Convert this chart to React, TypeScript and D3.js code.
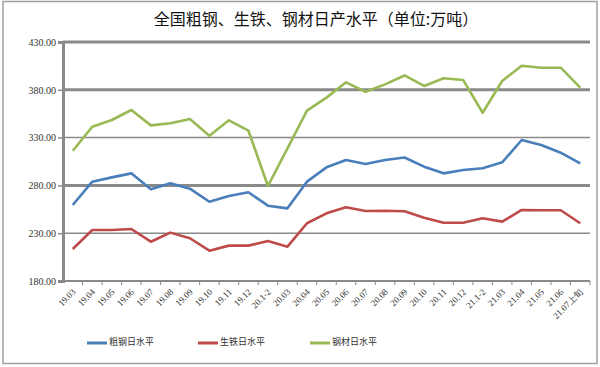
import * as d3 from "d3";
import { useEffect, useRef } from "react";

// 月份
const months = [
  "19.03", "19.04", "19.05", "19.06", "19.07", "19.08", "19.09", "19.10", "19.11", "19.12",
  "20.1-2", "20.03", "20.04", "20.05", "20.06", "20.07", "20.08", "20.09", "20.10", "20.11", "20.12",
  "21.1-2", "21.03", "21.04", "21.05", "21.06", "21.07上旬",
];
// 粗钢日水平
const crudeSteel = [
  259.5, 283.9, 288.4, 292.6, 275.9, 282.2, 276.6, 262.9, 268.9, 272.8,
  258.8, 256, 283.9, 298.9, 306.6, 302.4, 306.6, 309.2, 299.6, 292.6, 296.1,
  297.9, 304.1, 327.5, 322.3, 314.2, 303.1,
];
// 生铁日水平
const pigIron = [
  213.5, 233.3, 233.3, 234.4, 221.1, 230.6, 224.7, 211.7, 217, 217,
  221.8, 215.9, 240.4, 250.8, 257.1, 253.2, 253.5, 253, 246.2, 241, 241,
  245.6, 242.1, 254.3, 254, 254, 240.4,
];
// 钢材日水平
const steelProducts = [
  316.3, 341.4, 348.4, 358.9, 342.8, 345, 349.5, 332, 348.1, 337.2,
  279.4, 318.8, 358.2, 371.8, 387.8, 378, 385.7, 395, 384, 392, 390.3,
  356, 389.2, 405.2, 403.1, 403.1, 382.2,
];
const yTicks = [180, 230, 280, 330, 380, 430];

const seriesList = [
  { name: "粗钢日水平", values: crudeSteel, color: "#4a7ebb" },
  { name: "生铁日水平", values: pigIron, color: "#be4b48" },
  { name: "钢材日水平", values: steelProducts, color: "#98b954" },
];

export default function App() {
  const svgRef = useRef<SVGSVGElement>(null);

  useEffect(() => {
    if (!svgRef.current) return;
    const svg = d3.select(svgRef.current);
    svg.selectAll("*").remove();

    const width = 600;
    const height = 367;
    const margin = { top: 42, right: 10, bottom: 86, left: 63 };
    const font = "'Noto Sans CJK SC', sans-serif";

    svg.attr("width", width).attr("height", height);

    // 外框
    svg
      .append("rect")
      .attr("x", 3)
      .attr("y", 1.5)
      .attr("width", 594)
      .attr("height", 362)
      .attr("fill", "#fff")
      .attr("stroke", "#a0a0a0")
      .attr("stroke-width", 1.5);

    // 标题
    svg
      .append("text")
      .attr("x", 316)
      .attr("y", 25)
      .attr("text-anchor", "middle")
      .attr("font-family", font)
      .attr("font-size", 16)
      .attr("fill", "#111")
      .text("全国粗钢、生铁、钢材日产水平（单位:万吨）");

    const x = d3
      .scaleBand<string>()
      .domain(months)
      .range([margin.left, width - margin.right]);
    const y = d3
      .scaleLinear()
      .domain([180, 430])
      .range([height - margin.bottom, margin.top]);

    const g = svg.append("g");

    // 网格线
    g.selectAll(".grid")
      .data(yTicks.filter((t) => t > 180))
      .enter()
      .append("line")
      .attr("x1", margin.left)
      .attr("x2", width - margin.right)
      .attr("y1", (d) => y(d))
      .attr("y2", (d) => y(d))
      .attr("stroke", "#8a8a8a")
      .attr("stroke-width", (d) => (d === 330 || d === 230 ? 1.5 : 3));

    // Y 轴
    const yAxis = g
      .append("g")
      .attr("transform", `translate(${margin.left},0)`)
      .call(
        d3
          .axisLeft(y)
          .tickValues(yTicks)
          .tickSize(5)
          .tickFormat((d) => d3.format(".2f")(d as number)),
      );
    yAxis.select(".domain").attr("stroke", "#8a8a8a").attr("stroke-width", 3);
    yAxis.selectAll(".tick line").attr("stroke", "#8a8a8a").attr("stroke-width", 1.5);
    yAxis
      .selectAll(".tick text")
      .attr("font-family", "'Liberation Serif', serif")
      .attr("font-size", 10)
      .attr("fill", "#333")
      .attr("x", -7);

    // X 轴
    const xAxisY = height - margin.bottom;
    g.append("line")
      .attr("x1", margin.left)
      .attr("x2", width - margin.right)
      .attr("y1", xAxisY)
      .attr("y2", xAxisY)
      .attr("stroke", "#8a8a8a")
      .attr("stroke-width", 2);
    g.selectAll(".xtick")
      .data(months)
      .enter()
      .append("line")
      .attr("x1", (d) => (x(d) as number) + x.bandwidth())
      .attr("x2", (d) => (x(d) as number) + x.bandwidth())
      .attr("y1", xAxisY)
      .attr("y2", xAxisY + 4)
      .attr("stroke", "#8a8a8a")
      .attr("stroke-width", 1);
    g.selectAll(".xlabel")
      .data(months)
      .enter()
      .append("text")
      .attr(
        "transform",
        (d) =>
          `translate(${(x(d) as number) + x.bandwidth() / 2 + 2},${xAxisY + 10}) rotate(-45)`,
      )
      .attr("text-anchor", "end")
      .attr("dominant-baseline", "middle")
      .attr("font-family", "'Liberation Serif', serif")
      .attr("font-size", 9)
      .attr("fill", "#333")
      .text((d) => d);

    // 折线
    const line = d3
      .line<number>()
      .x((d, i) => (x(months[i]) as number) + x.bandwidth() / 2)
      .y((d) => y(d));
    seriesList.forEach((s) => {
      g.append("path")
        .datum(s.values)
        .attr("d", line)
        .attr("fill", "none")
        .attr("stroke", s.color)
        .attr("stroke-width", 2.6)
        .attr("stroke-linejoin", "round");
    });

    // 图例
    const legendX = [87, 198, 310];
    seriesList.forEach((s, i) => {
      const lg = svg.append("g").attr("transform", `translate(${legendX[i]},343)`);
      lg.append("line")
        .attr("x1", 0)
        .attr("x2", 20)
        .attr("stroke", s.color)
        .attr("stroke-width", 3);
      lg.append("text")
        .attr("x", 22)
        .attr("dominant-baseline", "middle")
        .attr("font-family", font)
        .attr("font-size", 9)
        .attr("fill", "#333")
        .text(s.name);
    });
  }, []);

  return (
    <svg
      ref={svgRef}
      style={{ position: "absolute", left: 0, top: 0, display: "block" }}
    ></svg>
  );
}
